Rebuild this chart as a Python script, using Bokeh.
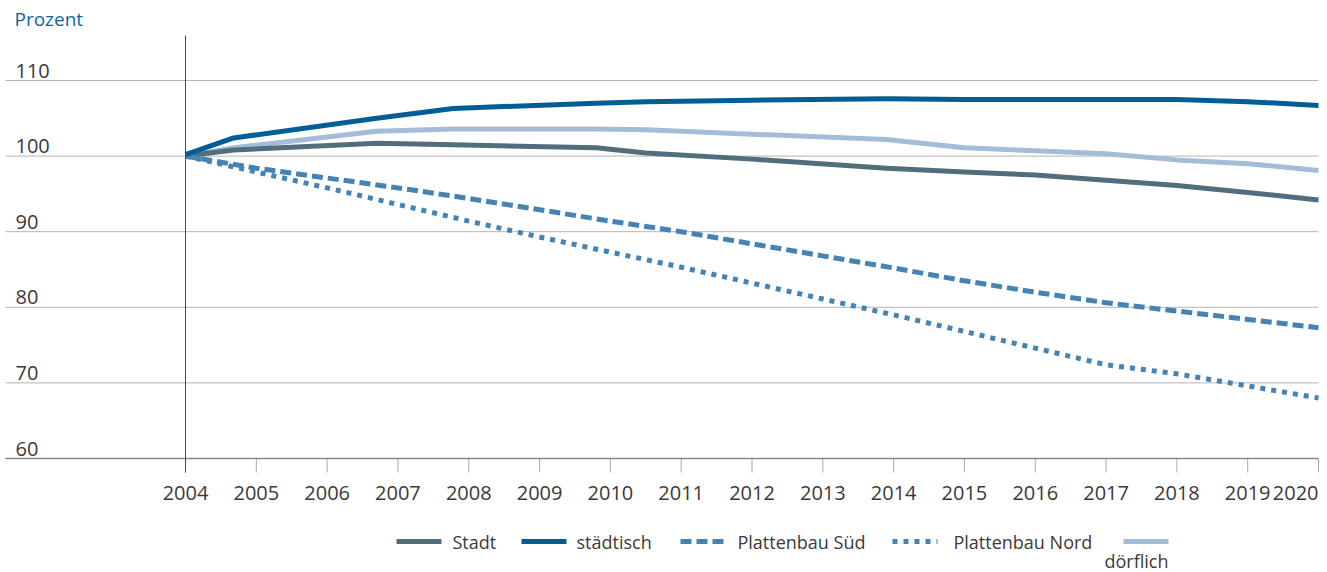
from bokeh.plotting import figure
from bokeh.models import Range1d, FixedTicker, LinearAxis, Label, Arrow
from bokeh.embed import file_html
from bokeh.resources import INLINE

# ---------------- data ----------------
years = list(range(2004, 2021))
year_labels = [str(y) for y in years]

# positions (fractional years) of the vertices of the three upper series
x_upper = [2004.0, 2004.68, 2006.7, 2007.78, 2009.8, 2010.5, 2012.0, 2013.9,
           2015.0, 2016.0, 2017.0, 2018.0, 2019.0, 2020.0]
staedtisch = [100.2, 102.4, 105.0, 106.3, 107.0, 107.2, 107.4, 107.6,
              107.5, 107.5, 107.5, 107.5, 107.2, 106.7]
stadt = [100.0, 100.8, 101.7, 101.5, 101.1, 100.4, 99.6, 98.4,
         97.9, 97.5, 96.8, 96.1, 95.2, 94.2]
doerflich = [100.0, 101.1, 103.3, 103.6, 103.6, 103.5, 102.9, 102.2,
             101.1, 100.7, 100.3, 99.5, 99.0, 98.1]

platten_sued = [100.0, 98.4, 97.1, 95.8, 94.4, 92.9, 91.4, 90.0, 88.4,
                86.8, 85.2, 83.5, 82.0, 80.6, 79.5, 78.4, 77.3]
platten_nord = [100.0, 97.9, 95.8, 93.6, 91.4, 89.3, 87.3, 85.3, 83.2,
                81.1, 79.0, 76.8, 74.6, 72.4, 71.2, 69.6, 68.0]

y_ticks = [60, 70, 80, 90, 100, 110]
y_tick_labels = ["60", "70", "80", "90", "100", "110"]

series_names = ["Stadt", "städtisch", "Plattenbau Süd", "Plattenbau Nord", "dörflich"]
y_title = "Prozent"
caption = "Tabelle 12 – Wohnungsbedarf"

# ---------------- style ----------------
C_STADT = "#526e7d"
C_STAEDT = "#005e96"
C_PLATTE = "#4583b4"
C_DORF = "#a5bcd8"
C_TEXT = "#3a3a3a"
C_TITLE = "#0f65a0"
C_GRID = "#b4b4b4"
FONT = "Open Sans"
FS = "20px"
FS_LEG = "18px"

W, H = 1327, 572
# pixel geometry: first year at x=185, last year at x=1318; 60 at y=458, 110 at y=80
PPX = (1318 - 185) / (years[-1] - years[0])
PPY = (458 - 80) / (y_ticks[-1] - y_ticks[0])
X0 = years[0] - 185 / PPX
X1 = X0 + W / PPX
Y0 = y_ticks[0] - (H - 458) / PPY
Y1 = Y0 + H / PPY


def dx(px):
    """canvas pixel x -> data x"""
    return X0 + px / PPX


def dy(py):
    """canvas pixel y (from top) -> data y"""
    return Y0 + (H - py) / PPY


p = figure(width=W, height=H, x_range=Range1d(X0, X1), y_range=Range1d(Y0, Y1),
           min_border=0, toolbar_location=None, output_backend="svg",
           x_axis_location=None, y_axis_location=None)
p.outline_line_color = None
p.background_fill_color = "white"
p.border_fill_color = "white"
p.grid.visible = False

# horizontal grid lines (from left edge to last year)
p.segment(x0=dx(5), y0=y_ticks[1:], x1=years[-1], y1=y_ticks[1:],
          line_color=C_GRID, line_width=1)

# tick marks below the base line, one per year
p.segment(x0=years, y0=y_ticks[0], x1=years, y1=dy(472),
          line_color="#a8a8a8", line_width=1)

# x axis line at value 60
xa = LinearAxis(fixed_location=y_ticks[0], ticker=FixedTicker(ticks=[]),
                bounds=(dx(5), years[-1]))
xa.axis_line_color = "#8a8a8a"
xa.axis_line_width = 1.5
xa.major_tick_line_color = None
xa.minor_tick_line_color = None
p.add_layout(xa, "below")

for i, (yr, lab) in enumerate(zip(years, year_labels)):
    last = i == len(years) - 1
    p.add_layout(Label(x=yr, y=dy(492), text=lab, text_font=FONT,
                       text_font_size=FS, text_color=C_TEXT,
                       text_baseline="middle",
                       text_align="right" if last else "center"))

# vertical axis line at first year
ya = LinearAxis(fixed_location=years[0], ticker=FixedTicker(ticks=[]),
                bounds=(dy(472), dy(35)))
ya.axis_line_color = "#4a4a4a"
ya.axis_line_width = 1
ya.major_tick_line_color = None
ya.minor_tick_line_color = None
p.add_layout(ya, "left")

# y tick labels (left aligned, above grid line)
for v, lab in zip(y_ticks, y_tick_labels):
    p.add_layout(Label(x=dx(15), y=v, text=lab, text_font=FONT,
                       text_font_size=FS, text_color=C_TEXT,
                       text_baseline="bottom", text_align="left", y_offset=3))

p.add_layout(Label(x=dx(14), y=dy(18), text=y_title, text_font=FONT,
                   text_font_size="19px", text_color=C_TITLE,
                   text_baseline="middle", text_align="left"))

# ---------------- lines ----------------
LW = 5
p.line(x_upper, doerflich, line_color=C_DORF, line_width=LW, line_join="round")
p.line(x_upper, stadt, line_color=C_STADT, line_width=LW, line_join="round")
p.line(years, platten_sued, line_color=C_PLATTE, line_width=LW, line_dash="11 5")
p.line(years, platten_nord, line_color=C_PLATTE, line_width=LW, line_dash="5 6")
p.line(x_upper, staedtisch, line_color=C_STAEDT, line_width=LW, line_join="round")

# ---------------- legend ----------------
legend_spec = [
    (series_names[0], C_STADT, "solid", 396, 452),
    (series_names[1], C_STAEDT, "solid", 521, 576),
    (series_names[2], C_PLATTE, "11 5", 680, 737),
    (series_names[3], C_PLATTE, "5 6", 892, 953),
]
LEG_Y = 541
for name, col, dash, sx0, tx in legend_spec:
    p.add_layout(Arrow(end=None, x_start=dx(sx0), y_start=dy(LEG_Y),
                       x_end=dx(sx0 + 45), y_end=dy(LEG_Y), line_color=col,
                       line_width=LW, line_dash=dash))
    p.add_layout(Label(x=dx(tx), y=dy(LEG_Y), text=name, text_font=FONT,
                       text_font_size=FS_LEG, text_color=C_TEXT,
                       text_baseline="middle", text_align="left"))

p.add_layout(Arrow(end=None, x_start=dx(1123), y_start=dy(LEG_Y),
                   x_end=dx(1168), y_end=dy(LEG_Y), line_color=C_DORF,
                   line_width=LW))
p.add_layout(Label(x=dx(1168), y=dy(560), text=series_names[4], text_font=FONT,
                   text_font_size=FS_LEG, text_color=C_TEXT,
                   text_baseline="middle", text_align="right"))

# caption (cut at the bottom edge, as in the original)
p.add_layout(Label(x=dx(4), y=dy(583), text=caption, text_font=FONT,
                   text_font_size=FS_LEG, text_color=C_TEXT,
                   text_baseline="alphabetic", text_align="left"))

open("out.html", "w").write(file_html(p, INLINE))
